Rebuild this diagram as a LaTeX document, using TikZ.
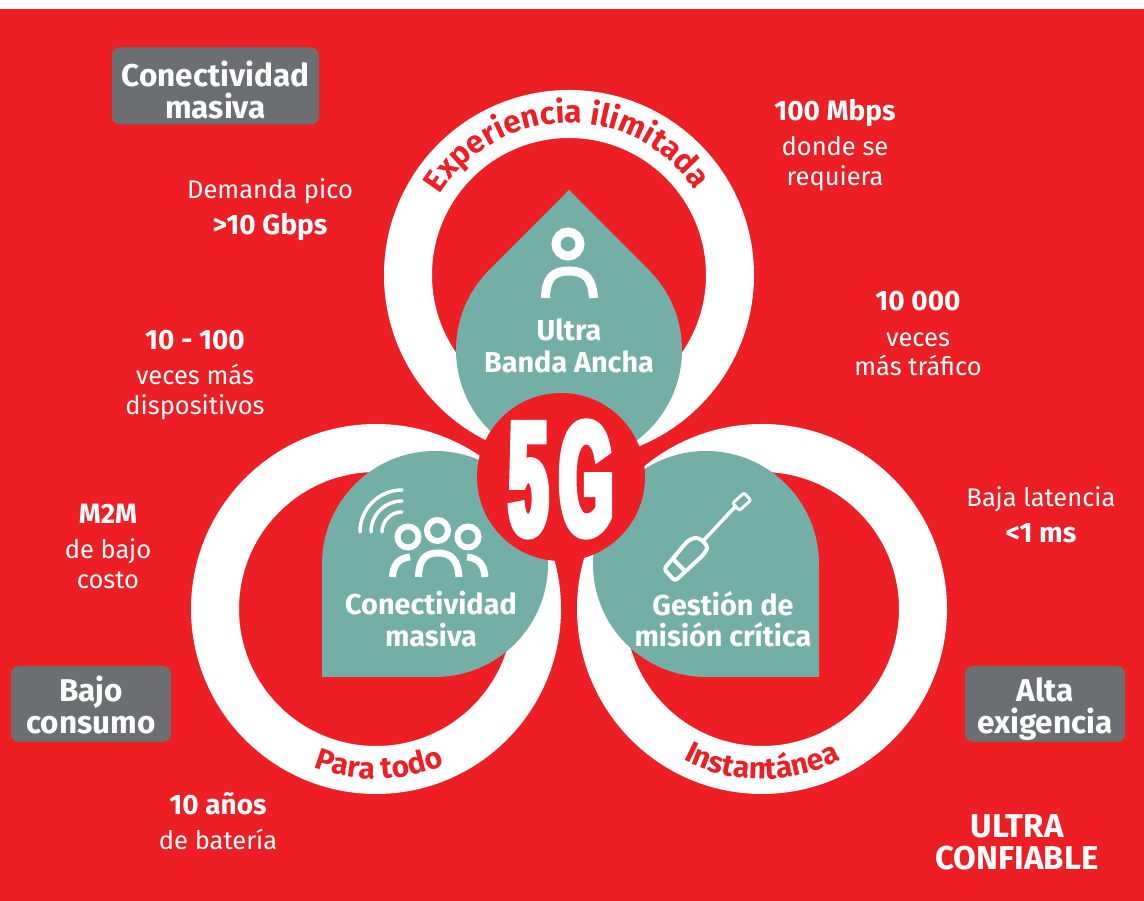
\documentclass[tikz,border=0pt]{standalone}
\usepackage{fontspec}
\setmainfont{Fira Sans}
\newfontfamily\fivegfont[FakeStretch=0.42,FakeBold=5]{Liberation Sans Bold}
\usetikzlibrary{decorations.text}
\definecolor{bgred}{HTML}{ED1F25}
\definecolor{teal5g}{HTML}{73AEA7}
\definecolor{boxgray}{HTML}{6D6E71}
\tikzset{
  ringband/.style={draw=white,line width=48pt},
  petal/.style={fill=teal5g,draw=none},
  grayheading/.style={fill=boxgray,rounded corners=8pt,minimum width=#1,minimum height=76pt,inner sep=0pt,text=white,align=center,font=\fontsize{31.5}{32}\selectfont\bfseries},
  petaltext/.style={text=white,align=center,inner sep=0pt,font=\fontsize{28.8}{31.5}\selectfont\bfseries},
  metric/.style={text=white,align=center,inner sep=0pt,font=\fontsize{25.5}{29.5}\selectfont},
  icon/.style={draw=white,line cap=butt},
  ringtext/.style={decorate,decoration={text along path,text align=center,text color=bgred,raise=0pt}},
}
\newcommand{\hi}[1]{{\fontsize{28}{29.5}\selectfont\bfseries #1}}
\newcommand{\boxtop}{\rule{0pt}{34pt}}
\newcommand{\boxbot}{\rule[-6pt]{0pt}{6pt}}
\begin{document}
\begin{tikzpicture}[x=1pt,y=1pt]
\useasboundingbox (0,0) rectangle (1144,901);
\fill[white] (0,0) rectangle (1144,901);
\fill[bgred] (0,0) rectangle (1144,892);
% rings
\draw[ringband] (569,626) circle (161);
\draw[ringband] (376,292) circle (161);
\draw[ringband] (762,292) circle (161);
% ring texts
\path[ringtext,decoration={text={|\fontsize{31.5}{32}\selectfont\bfseries\color{bgred}|Experiencia ilimitada}}]
  (569,626) ++(150:152) arc[start angle=150,end angle=32,radius=152];
\path[ringtext,decoration={text={|\fontsize{30}{30}\selectfont\bfseries\color{bgred}|Para todo}}]
  (376,292) ++(240:170) arc[start angle=240,end angle=302,radius=170];
\path[ringtext,decoration={text={|\fontsize{30}{30}\selectfont\bfseries\color{bgred}|Instantánea}}]
  (762,292) ++(235:170) arc[start angle=235,end angle=305,radius=170];
% petals
\fill[petal] (569,711) -- (489.1,630.9) arc[start angle=135,end angle=405,radius=113] -- cycle;
\fill[petal] (322,224) -- (322,337) arc[start angle=180,end angle=-90,radius=113] -- cycle;
\fill[petal] (819,224) -- (819,337) arc[start angle=0,end angle=270,radius=113] -- cycle;
% centre
\fill[bgred] (561,424) circle (84);
\node[text=white,inner sep=0pt,font=\fontsize{160}{160}\fivegfont] (fiveg) at (561,422) {5\kern13pt G};
% person icon
\draw[icon,line width=9pt] (568,657) circle (12);
\draw[icon,line width=9pt] (545.5,603) .. controls (546,622) and (552,630) .. (569,630) .. controls (586,630) and (592,622) .. (593.5,603);
% wifi + people icon
\draw[icon,line width=3.5pt,line cap=round] (360,369) arc[start angle=180,end angle=90,radius=42];
\draw[icon,line width=3.5pt,line cap=round] (371,369) arc[start angle=180,end angle=90,radius=31];
\draw[icon,line width=3.5pt,line cap=round] (382,369) arc[start angle=180,end angle=90,radius=20];
\draw[icon,line width=6pt] (408,364) circle (10.5);
\draw[icon,line width=6pt] (437.5,370.5) circle (10.5);
\draw[icon,line width=6pt] (468,364) circle (10.5);
\draw[icon,line width=7pt] (418.5,324) .. controls (419,340) and (424,348) .. (438,348) .. controls (452,348) and (458,340) .. (459,324);
\draw[icon,line width=7pt] (392.5,324) .. controls (393,335) and (398,343) .. (410,344);
\draw[icon,line width=7pt] (485,324) .. controls (484.5,335) and (479,343) .. (467,344);
% screwdriver icon
\draw[icon,line width=4pt,line join=round,rounded corners=3pt] (664,332) -- (675,320) -- (700,343) .. controls (705,348) and (707,352) .. (707,356) -- (699,363) .. controls (693,363) and (689,361) .. (685,357) -- cycle;
\draw[icon,line width=4pt] (672,343) -- (684,331);
\draw[icon,line width=3.5pt] (703,360) -- (735,394);
\draw[icon,line width=3pt,rounded corners=2pt,rotate around={42:(741.7,399.3)}] (734,394.3) rectangle (749.4,404.3);
% petal titles
\node[petaltext] (ultra) at (569,555) {Ultra\\Banda Ancha};
\node[petaltext] (cmasiva) at (431,282) {Conectividad\\masiva};
\node[petaltext] (gestion) at (723,282) {Gestión de\\misión crítica};
% gray boxes
\node[grayheading=207pt] (boxCon) at (215.5,815) {\rule{0pt}{39pt}Conectividad\\masiva\boxbot};
\node[grayheading=160pt] (boxBajo) at (91,197) {\boxtop Bajo\\consumo\boxbot};
\node[grayheading=160pt] (boxAlta) at (1045,197) {\boxtop Alta\\exigencia\boxbot};
% metrics
\node[metric] (m1) at (270,691.5) {Demanda pico\\[6pt]\hi{>10 Gbps}};
\node[metric] (m2) at (835,756) {\hi{100 Mbps}\\[6pt]donde se\\requiera};
\node[metric] (m3) at (918,567) {\hi{10 000}\\[6pt]veces\\más tráfico};
\node[metric] (m4) at (195,526) {\hi{10 - 100}\\[6pt]veces más\\dispositivos};
\node[metric] (m5) at (108,355) {\hi{M2M}\\[6pt]de bajo\\costo};
\node[metric] (m6) at (1041,386) {Baja latencia\\[6pt]\hi{<1 ms}};
\node[metric] (m7) at (218,80) {\hi{10 años}\\[6pt]de batería};
\node[text=white,align=center,inner sep=0pt,font=\fontsize{33}{32}\selectfont\bfseries] (ultraconf) at (1017,59) {ULTRA\\CONFIABLE};
\end{tikzpicture}
\end{document}
